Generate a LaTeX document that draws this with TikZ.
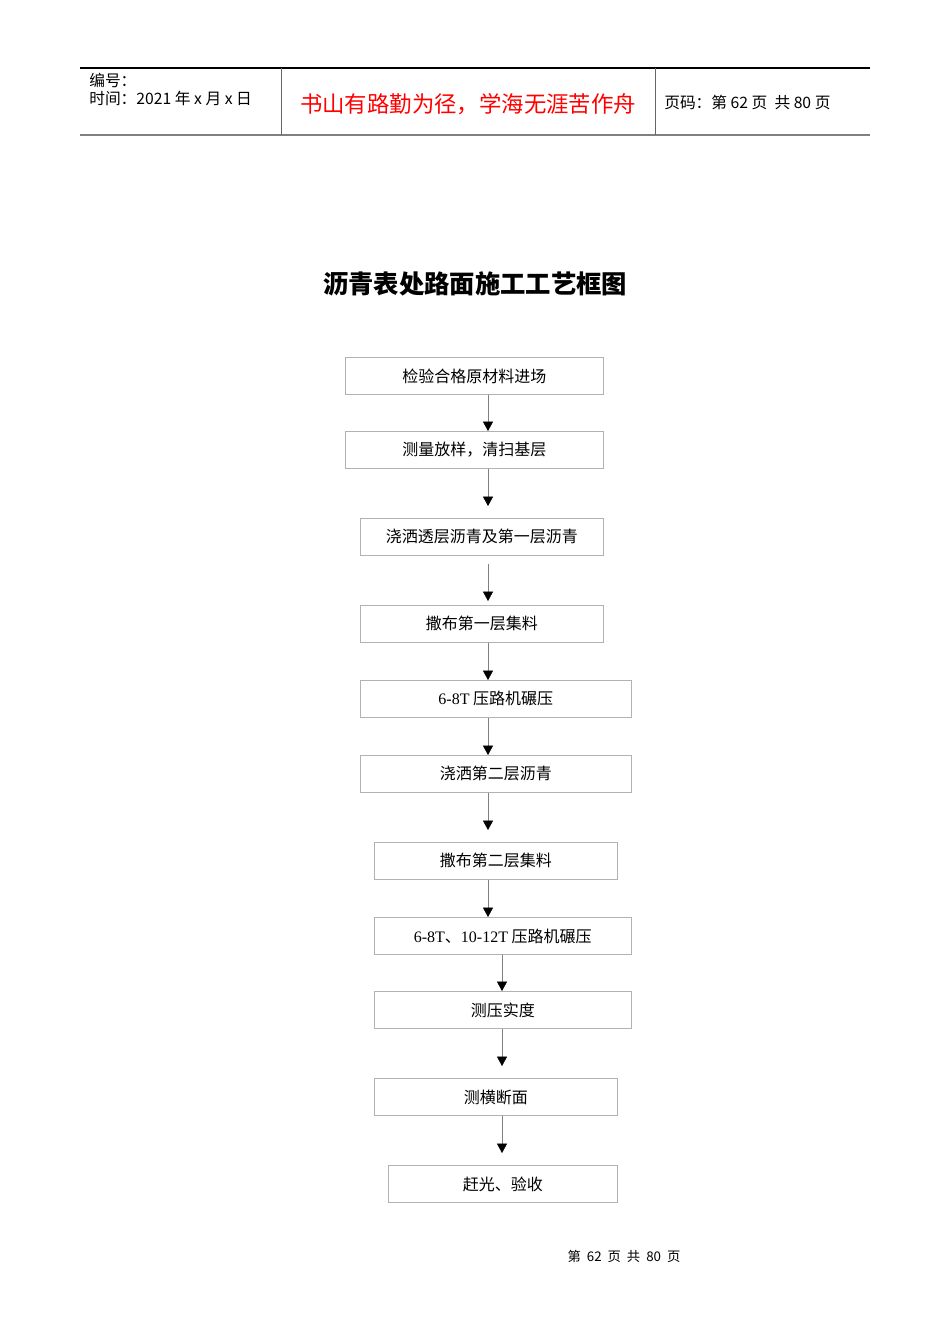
\documentclass[tikz,border=0pt]{standalone}
\usepackage{fontspec}
\newfontfamily\cjk{Noto Sans CJK SC}
\newfontfamily\tnr{Liberation Serif}
\usetikzlibrary{arrows.meta}

\tikzset{
  stage/.style = {draw = gray!60, anchor = north west, inner sep = 0,
    minimum height = 28pt, font = \cjk\fontsize{12}{14}\selectfont},
  flow/.style = {draw = gray, -{Triangle[width = 7.5pt, length = 7pt, black]}},
  head/.style = {anchor = west, inner sep = 0, font = \cjk\fontsize{11.8}{13}\selectfont}
}

\begin{document}
\begin{tikzpicture}[x = .75pt, y = -.75pt]
  \useasboundingbox[fill = white] (0, 0) rectangle (950, 1344);

  % page header
  \draw[line width = .8pt] (80, 68) -- (870, 68);
  \draw[gray, line width = 1.5pt] (80, 135.5) -- (870, 135.5);
  \draw[gray!80!black] (281, 68) -- (281, 135) (655, 68) -- (655, 135);
  \node[head] (num) at (89, 80) {编号：};
  \node[head] (date) at (89, 99) {时间：2021 年 x 月 x 日};
  \node[font = \cjk\fontsize{16.8}{18}\selectfont, text = red] (motto) at (468, 104)
  {书山有路勤为径，学海无涯苦作舟};
  \node[head] (page) at (664, 103) {页码：第 62 页 \ 共 80 页};

  \node[font = \cjk\bfseries\fontsize{19}{22}\selectfont] (title) at (475, 284)
  {沥青表处路面施工工艺框图};

  % stages
  \node[stage, minimum width = 193.5pt] (s1) at (345, 357) {检验合格原材料进场};
  \node[stage, minimum width = 193.5pt] (s2) at (345, 431) {测量放样，清扫基层};
  \node[stage, minimum width = 182.25pt] (s3) at (360, 518) {浇洒透层沥青及第一层沥青};
  \node[stage, minimum width = 182.25pt] (s4) at (360, 605) {撒布第一层集料};
  \node[stage, minimum width = 203.25pt] (s5) at (360, 680) {{\tnr 6-8T} 压路机碾压};
  \node[stage, minimum width = 203.25pt] (s6) at (360, 755) {浇洒第二层沥青};
  \node[stage, minimum width = 182.25pt] (s7) at (374, 842) {撒布第二层集料};
  \node[stage, minimum width = 192.75pt] (s8) at (374, 917)
  {{\tnr 6-8T}、{\tnr 10-12T} 压路机碾压};
  \node[stage, minimum width = 192.75pt] (s9) at (374, 991) {测压实度};
  \node[stage, minimum width = 182.25pt] (s10) at (374, 1078) {测横断面};
  \node[stage, minimum width = 171.75pt] (s11) at (388, 1165) {赶光、验收};

  % arrows
  \draw[flow] (s1.south -| 488, 0) -- (s2.north -| 488, 0);
  \draw[flow, shorten > = 9pt] (s2.south -| 488, 0) -- (s3.north -| 488, 0);
  \draw[flow, shorten < = 6pt, shorten > = 3pt] (s3.south -| 488, 0) -- (s4.north -| 488, 0);
  \draw[flow] (s4.south -| 488, 0) -- (s5.north -| 488, 0);
  \draw[flow] (s5.south -| 488, 0) -- (s6.north -| 488, 0);
  \draw[flow, shorten > = 9pt] (s6.south -| 488, 0) -- (s7.north -| 488, 0);
  \draw[flow] (s7.south -| 488, 0) -- (s8.north -| 488, 0);
  \draw[flow] (s8.south -| 502, 0) -- (s9.north -| 502, 0);
  \draw[flow, shorten > = 9pt] (s9.south -| 502, 0) -- (s10.north -| 502, 0);
  \draw[flow, shorten > = 9pt] (s10.south -| 502, 0) -- (s11.north -| 502, 0);

  % page footer
  \node[font = \cjk\fontsize{10}{12}\selectfont] (foot) at (624, 1256)
  {第 \ 62 \ 页 \ 共 \ 80 \ 页};
\end{tikzpicture}
\end{document}
